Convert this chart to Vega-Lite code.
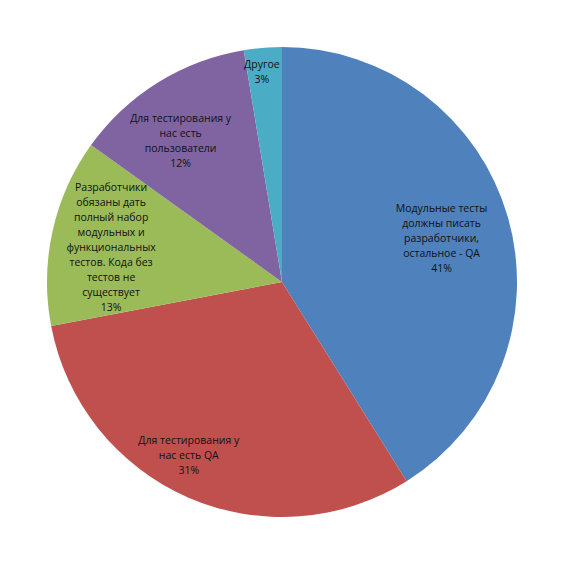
{
  "$schema": "https://vega.github.io/schema/vega-lite/v6.json",
  "width": 564,
  "height": 564,
  "padding": 0,
  "autosize": {"type": "fit", "contains": "padding"},
  "background": "white",
  "data": {
    "values": [
      {"i": 1, "cat": "Модульные тесты\nдолжны писать\nразработчики,\nостальное - QA\n41%", "share": 41.1},
      {"i": 2, "cat": "Для тестирования у\nнас есть QA\n31%", "share": 30.9},
      {"i": 3, "cat": "Разработчики\nобязаны дать\nполный набор\nмодульных и\nфункциональных\nтестов. Кода без\nтестов не\nсуществует\n13%", "share": 12.9},
      {"i": 4, "cat": "Для тестирования у\nнас есть\nпользователи\n12%", "share": 12.5},
      {"i": 5, "cat": "Другое\n3%", "share": 2.6}
    ]
  },
  "encoding": {
    "theta": {"field": "share", "type": "quantitative", "stack": true},
    "order": {"field": "i", "type": "quantitative"}
  },
  "layer": [
    {
      "mark": {"type": "arc", "outerRadius": 235, "stroke": null},
      "encoding": {
        "color": {
          "field": "i",
          "type": "nominal",
          "scale": {"domain": [1, 2, 3, 4, 5], "range": ["#4F81BD", "#C0504D", "#9BBB59", "#8064A2", "#4BACC6"]},
          "legend": null
        }
      }
    },
    {
      "mark": {
        "type": "text",
        "radius": {"expr": "datum.i == 5 ? 210 : datum.i == 2 ? 198 : datum.i == 1 ? 166 : 175"},
        "dx": {"expr": "datum.i == 2 ? -14 : datum.i == 4 ? -9 : datum.i == 5 ? -3 : 0"},
        "dy": {"expr": "datum.i == 1 ? -27 : datum.i == 2 ? -22 : datum.i == 3 ? -56 : datum.i == 4 ? -14 : -8"},
        "font": "Open Sans",
        "fontSize": 10.5,
        "lineHeight": 15,
        "lineBreak": "\n",
        "align": "center",
        "baseline": "middle",
        "color": "#111111"
      },
      "encoding": {
        "text": {"field": "cat", "type": "nominal"}
      }
    }
  ],
  "config": {"view": {"stroke": null}}
}
